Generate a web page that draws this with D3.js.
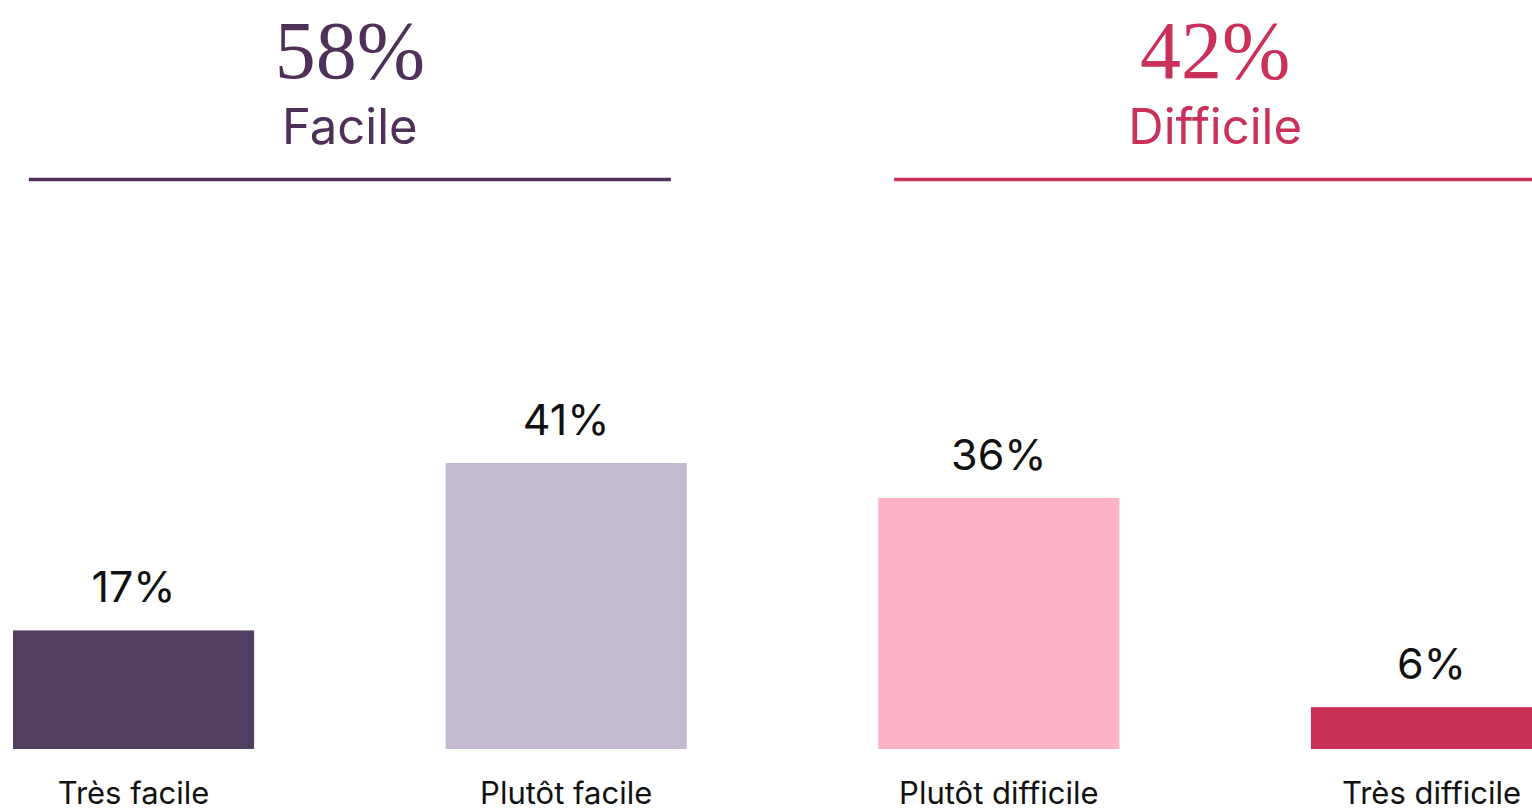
<!DOCTYPE html>
<html><head><meta charset="utf-8">
<script src="https://cdn.jsdelivr.net/npm/d3@7"></script>
<style>html,body{margin:0;padding:0;background:#fff;overflow:hidden}</style>
</head><body>
<svg id="chart" width="1532" height="811"></svg>
<script>
const categories = ["Très facile", "Plutôt facile", "Plutôt difficile", "Très difficile"];
const values = [17, 41, 36, 6];
const barColors = ["#513f62", "#c3b9d1", "#fdb3c5", "#c93058"];
const groupNames = ["Facile", "Difficile"];
const groupTotals = [58, 42];
const groupMembers = [["Très facile", "Plutôt facile"], ["Plutôt difficile", "Très difficile"]];
const groupColors = ["#4e3058", "#c9305a"];

const sans = "Inter, 'Noto Sans', sans-serif";
const serif = "'Liberation Serif', 'DejaVu Serif', serif";
const svg = d3.select("#chart");

const x = d3.scaleBand().domain(categories).range([13, 1552]).paddingInner(0.4428).paddingOuter(0);
const baseline = 749;
const y = d3.scaleLinear().domain([0, 41]).range([baseline, 463]);

svg.selectAll("rect.bar").data(values).join("rect")
  .attr("class", "bar")
  .attr("x", (d, i) => x(categories[i]))
  .attr("width", x.bandwidth())
  .attr("y", d => y(d))
  .attr("height", d => baseline - y(d))
  .attr("fill", (d, i) => barColors[i]);

svg.selectAll("text.val").data(values).join("text")
  .attr("class", "val")
  .attr("x", (d, i) => x(categories[i]) + x.bandwidth() / 2)
  .attr("y", d => y(d) - 28)
  .attr("text-anchor", "middle")
  .attr("font-family", sans).attr("font-size", 43).attr("fill", "#111")
  .text(d => d + "%");

svg.selectAll("text.cat").data(categories).join("text")
  .attr("class", "cat")
  .attr("x", d => x(d) + x.bandwidth() / 2)
  .attr("y", 804)
  .attr("text-anchor", "middle")
  .attr("font-family", sans).attr("font-size", 31).attr("fill", "#111")
  .text(d => d);

groupNames.forEach((g, i) => {
  const cs = groupMembers[i].map(c => x(c) + x.bandwidth() / 2);
  const cx = d3.mean(cs);
  svg.append("text").attr("x", cx).attr("y", 78).attr("text-anchor", "middle")
    .attr("font-family", serif).attr("font-size", 82).attr("fill", groupColors[i])
    .text(groupTotals[i] + "%");
  svg.append("text").attr("x", cx).attr("y", 144).attr("text-anchor", "middle")
    .attr("font-family", sans).attr("font-size", 49).attr("fill", groupColors[i])
    .text(g);
  svg.append("line").attr("x1", cx - 321).attr("x2", cx + 321).attr("y1", 179.5).attr("y2", 179.5)
    .attr("stroke", groupColors[i]).attr("stroke-width", 3.5);
});
</script>
</body></html>
